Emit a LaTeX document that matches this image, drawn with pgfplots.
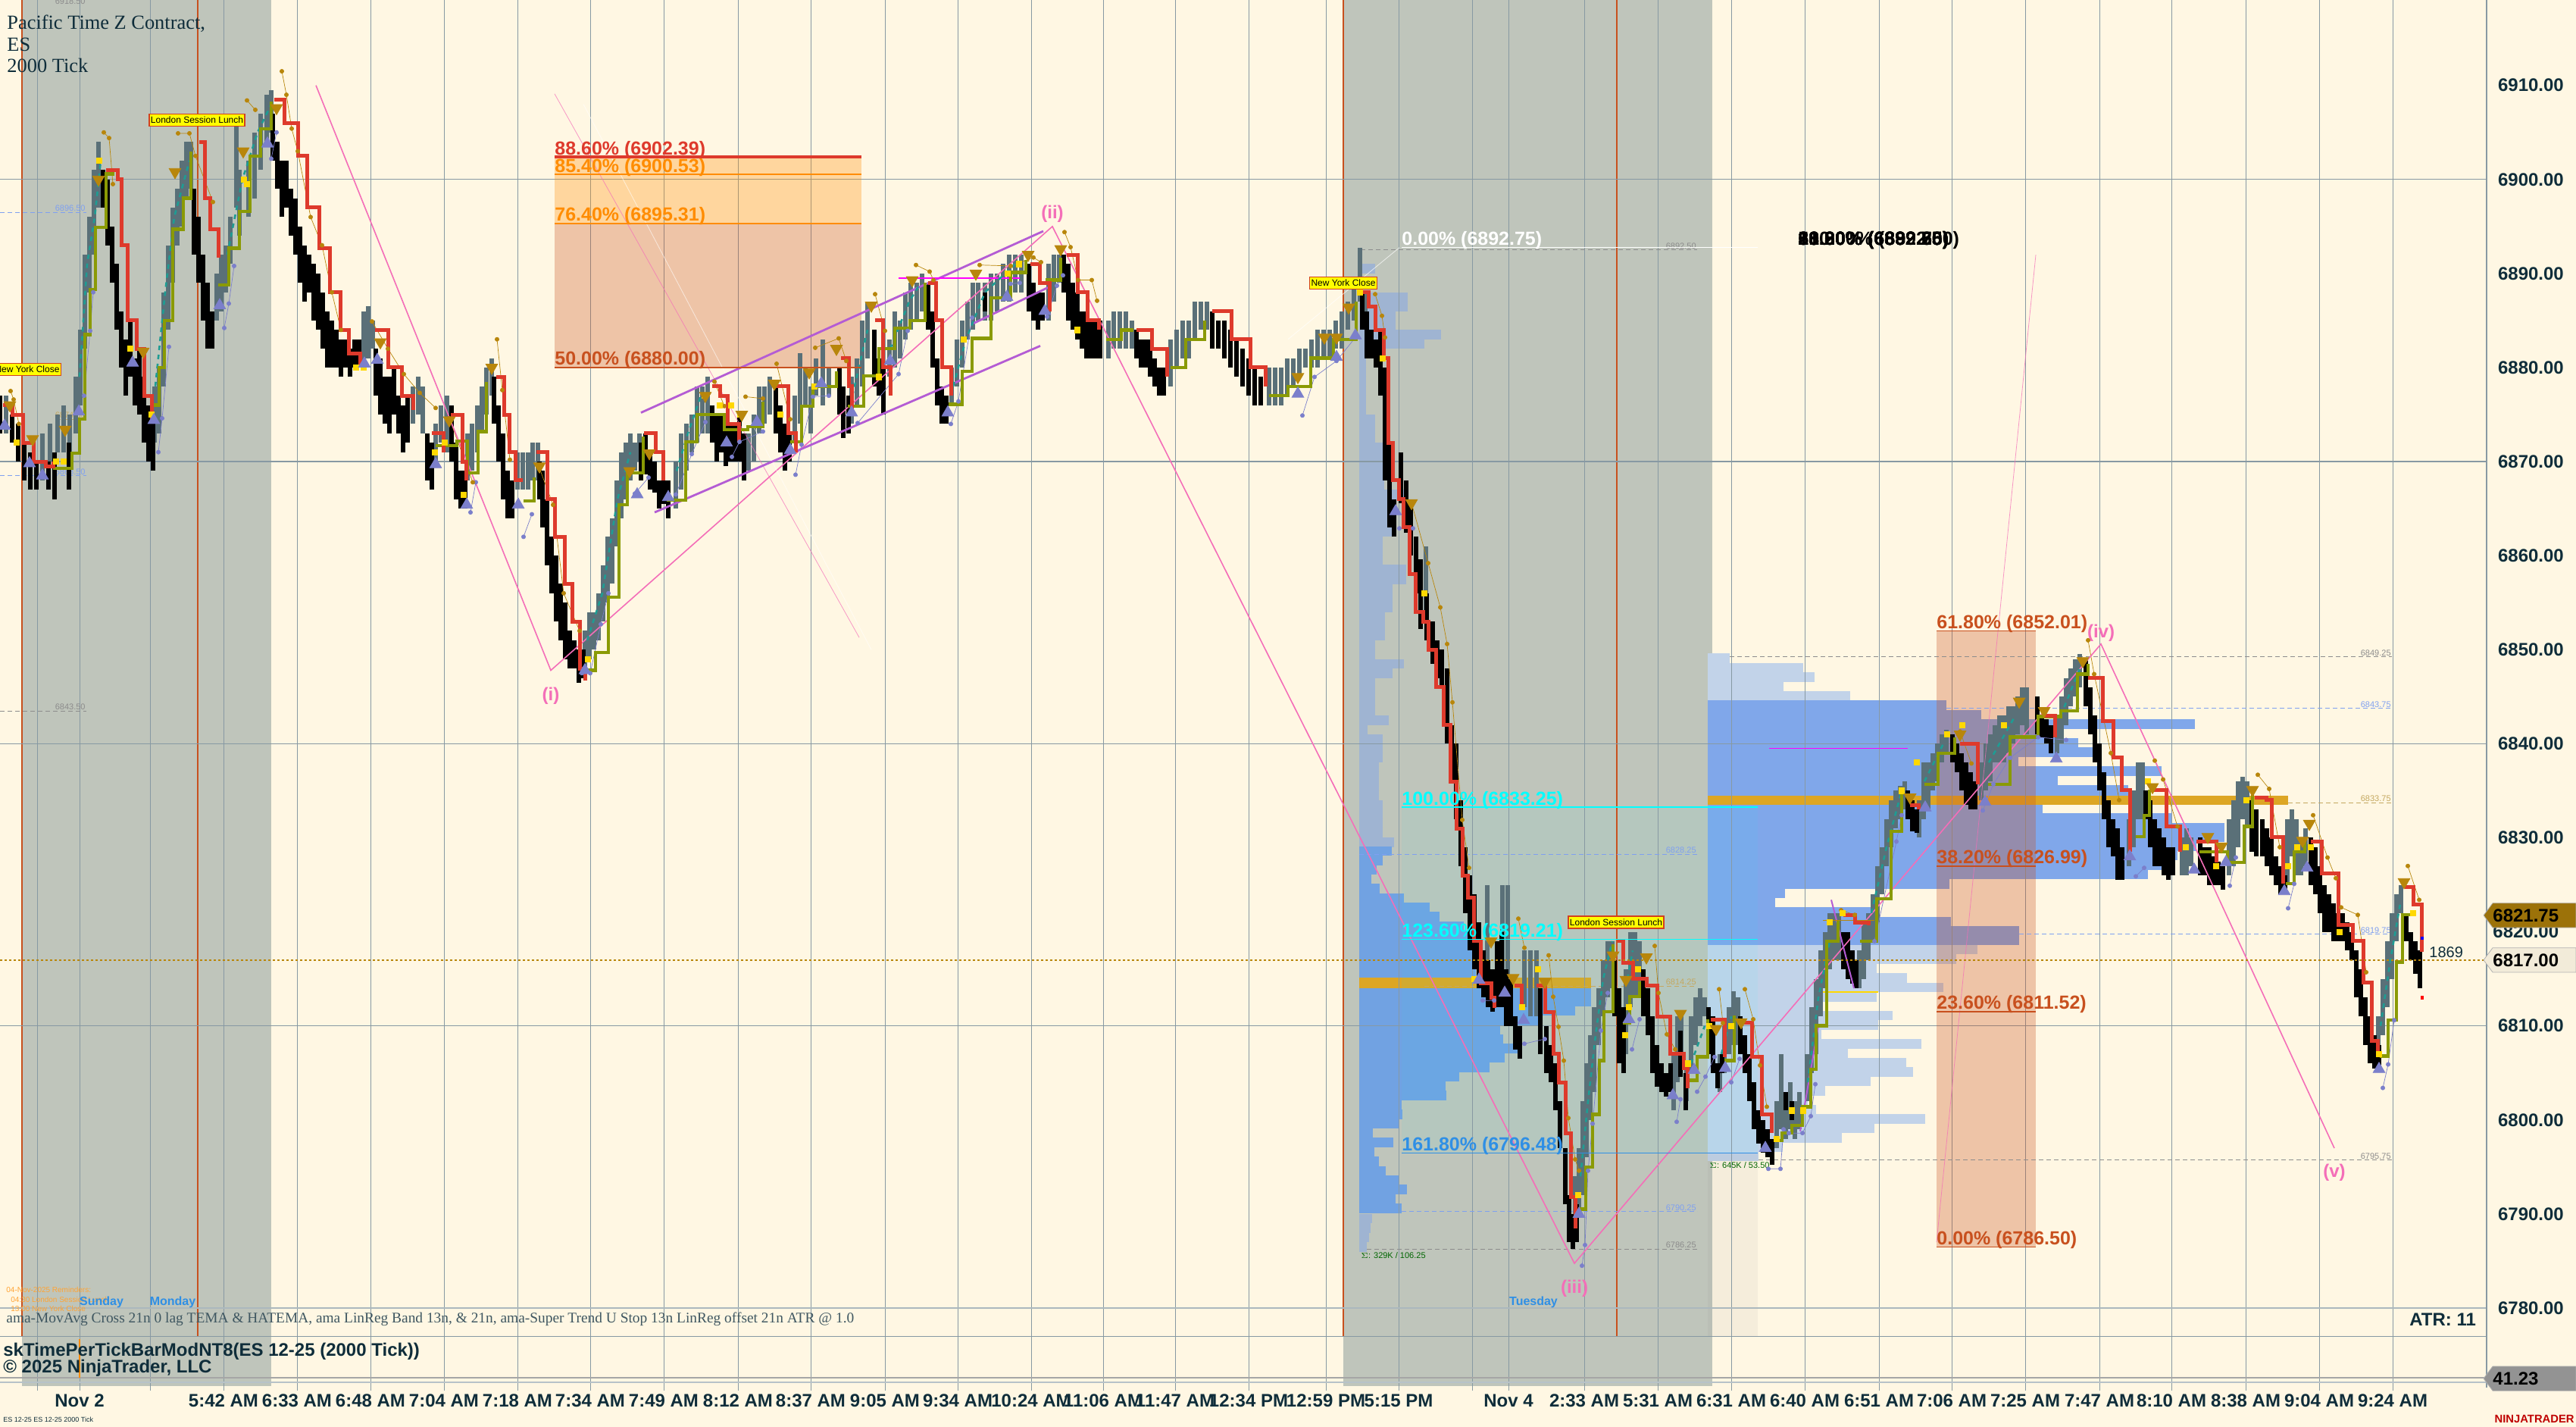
\documentclass[border=0pt]{standalone}
\usepackage{fontspec}
\setmainfont{Liberation Sans}
\newfontfamily\serifface{Liberation Serif}
\usepackage{pgfplots}
\usepackage{pgfplotstable}
\pgfplotsset{compat=1.18}

\definecolor{bg}{HTML}{FFF7E3}
\definecolor{session}{HTML}{BFC5BB}
\definecolor{gridc}{HTML}{8799A3}
\definecolor{upbar}{HTML}{5A7078}
\definecolor{txt}{HTML}{0F2D3A}
\definecolor{redl}{HTML}{DE3A2C}
\definecolor{olive}{HTML}{8A9A05}
\definecolor{teall}{HTML}{1F9C93}
\definecolor{goldd}{HTML}{B8860B}
\definecolor{vio}{HTML}{7B7FCB}
\definecolor{pinkw}{HTML}{F46EB8}
\definecolor{purp}{HTML}{B45CD4}
\definecolor{fibo}{HTML}{C8501E}
\definecolor{poc}{HTML}{DDA624}
\definecolor{flagr}{HTML}{D2401E}
\definecolor{vlight}{HTML}{9FB4D2}
\definecolor{vdark}{HTML}{71A2E2}
\definecolor{wlight}{HTML}{C2D3E9}
\definecolor{wdark}{HTML}{80A7EA}
\definecolor{sblue}{HTML}{2F8FE5}
\definecolor{cy}{HTML}{00FFFF}
\definecolor{yel}{HTML}{FFFF00}
\definecolor{yell}{HTML}{FFD800}
\definecolor{mag}{HTML}{FF00FF}
\definecolor{org}{HTML}{FF8C00}
\definecolor{levb}{HTML}{7FA0F0}
\definecolor{levt}{HTML}{C4A860}
\definecolor{levg}{HTML}{8C8C8C}

\newcommand{\fs}[1]{\fontsize{#1}{#1}\selectfont}

% bars: x lo hi
\pgfplotstableread[row sep=\\]{x lo hi\\
8 6873 6877\\ 56 6868 6873\\ 66 6870 6874\\ 76 6871 6875\\ 84 6871 6876\\ 92 6871 6875\\ 100 6873 6879\\ 106 6876 6884\\ 112 6882 6892\\ 118 6888 6896\\ 124 6892 6901\\ 130 6897 6904\\
204 6872 6878\\ 210 6873 6880\\ 216 6878 6888\\ 222 6884 6893\\ 228 6889 6897\\ 234 6893 6899\\ 240 6895 6902\\ 246 6898 6904\\ 252 6899 6904\\
286 6885 6890\\ 292 6886 6892\\ 298 6888 6893\\ 304 6891 6896\\ 312 6897 6906\\ 316 6894 6901\\ 328 6896 6902\\ 336 6898 6905\\ 344 6901 6907\\ 352 6904 6909\\ 358 6905 6909.5\\
480 6880 6886\\ 486 6881 6886.5\\ 492 6882 6885\\ 545 6874 6878\\ 552 6875 6879\\ 558 6873 6878\\ 575 6870 6874\\ 582 6872 6876\\ 590 6871 6877\\
617 6868 6873\\ 623 6869 6874\\ 630 6871 6876\\ 636 6873 6878\\ 642 6875 6880\\ 649 6877 6881\\ 683 6867 6871\\ 690 6867 6871\\ 697 6867 6871\\ 703 6868 6872\\ 710 6868 6872\\
772 6848 6852\\ 778 6849 6854\\ 784 6850 6854\\ 790 6851 6856\\ 796 6853 6859\\ 802 6855 6862\\ 808 6857 6864\\ 814 6861 6868\\ 820 6864 6871\\ 826 6866 6872\\ 832 6868 6873\\ 838 6869 6872\\ 844 6870 6873\\
892 6865 6870\\ 899 6867 6873\\ 906 6869 6874\\ 913 6871 6875\\ 920 6872 6878\\ 927 6873 6878\\ 934 6873 6879\\ 988 6869 6873\\ 995 6870 6875\\ 1002 6873 6878\\ 1009 6874 6878\\ 1016 6875 6879\\
1049 6872 6877\\ 1056 6874 6881.5\\ 1063 6876 6880\\ 1070 6873 6878\\ 1077 6877 6881\\ 1086 6876 6883\\ 1094 6877 6880\\ 1124 6874 6879\\ 1131 6876 6881\\ 1138 6878 6885\\ 1145 6881 6887\\
1174 6879 6883\\ 1181 6880 6886\\ 1188 6881 6885\\ 1195 6883 6888\\ 1202 6884 6889\\ 1210 6885 6889\\ 1217 6886 6890\\
1256 6876 6880\\ 1263 6878 6883\\ 1270 6880 6885\\ 1277 6883 6887\\ 1284 6884 6889\\ 1291 6885 6889\\ 1300 6885 6889\\ 1308 6885 6890\\ 1316 6886 6890\\ 1324 6887 6891\\ 1332 6887 6892\\ 1340 6888 6892\\ 1348 6888 6892\\
1384 6885 6891\\ 1391 6887 6892\\ 1398 6889 6892\\ 1463 6881 6885\\ 1470 6882 6886\\ 1478 6882 6886\\ 1486 6882 6886\\ 1494 6882 6885\\
1545 6878 6883\\ 1553 6880 6884\\ 1561 6881 6885\\ 1569 6881 6885\\ 1577 6883 6887\\ 1585 6884 6887\\ 1593 6884 6887\\
1675 6876 6880\\ 1683 6876 6880\\ 1691 6876 6880\\ 1699 6877 6881\\ 1707 6878 6881\\ 1715 6879 6882\\ 1723 6880 6882\\ 1731 6880 6883\\ 1739 6880 6884\\ 1747 6881 6884\\ 1755 6881 6884\\ 1763 6882 6885\\ 1771 6882 6886\\ 1779 6884 6887\\ 1787 6885 6889\\ 1795 6887 6892.7\\ 1802 6886 6888\\
1882 6854 6861\\ 1963 6816 6825\\ 1983 6816 6825\\ 1990 6815 6825\\ 2012 6812 6818\\ 2020 6811 6818\\ 2028 6811 6818\\
2079 6788 6794\\ 2084 6790 6797\\ 2089 6792 6802\\ 2094 6796 6806\\ 2099 6800 6809\\ 2104 6803 6812\\ 2110 6808 6814\\ 2116 6811 6817\\ 2122 6813 6819\\ 2128 6814 6819\\
2146 6807 6816\\ 2152 6812 6820\\ 2158 6813 6820\\ 2164 6813 6819\\
2209 6801 6807\\ 2214 6804 6811\\ 2219 6806 6811\\ 2226 6802 6806\\ 2232 6805 6811\\ 2238 6808 6813\\ 2244 6810 6814\\ 2250 6811 6813\\
2270 6803 6807\\ 2276 6805 6810\\ 2282 6807 6812\\ 2288 6808 6813.7\\ 2294 6808 6813\\
2345 6797 6802\\ 2351 6799 6807\\ 2357 6798 6803\\ 2363 6799 6804\\ 2369 6798 6802\\ 2375 6799 6803\\
2385 6802 6807\\ 2391 6805 6812\\ 2397 6807 6815\\ 2403 6811 6818\\ 2409 6814 6820\\ 2415 6816 6822\\ 2421 6817 6822\\ 2427 6817 6822\\
2454 6814 6818\\ 2460 6815 6821\\ 2466 6817 6822\\ 2472 6819 6824\\ 2478 6821 6827\\ 2484 6824 6829\\ 2490 6827 6832\\ 2496 6829 6834\\ 2502 6831 6835\\ 2508 6832 6835.5\\ 2514 6833 6836\\
2533 6830 6834\\ 2539 6832 6838\\ 2545 6833 6838\\ 2551 6835 6839\\ 2557 6836 6840\\ 2563 6838 6841\\ 2569 6839 6841.5\\
2615 6834 6838\\ 2621 6835 6840\\ 2627 6836 6841\\ 2633 6838 6842\\ 2639 6838 6843\\ 2645 6838 6843\\ 2651 6839 6844\\ 2657 6840 6844\\ 2663 6841 6845\\ 2669 6842 6846\\ 2675 6841 6846\\
2715 6839 6843\\ 2721 6840 6845\\ 2727 6842 6847\\ 2733 6844 6848\\ 2739 6845 6849\\ 2745 6846 6849.5\\
2810 6827 6832\\ 2816 6829 6835\\ 2822 6832 6838\\ 2828 6832 6838\\ 2880 6826 6830\\ 2886 6826 6831\\ 2892 6827 6830\\
2942 6826 6832\\ 2948 6827 6834\\ 2954 6829 6836\\ 2960 6832 6836.5\\ 2966 6831 6836\\
3019 6825 6832\\ 3025 6828 6833\\ 3031 6826 6832\\ 3037 6826 6830\\ 3043 6827 6831\\
3139 6806 6811\\ 3145 6809 6815\\ 3151 6812 6819\\ 3157 6815 6822\\ 3163 6819 6824\\ 3169 6822 6825\\
}\barsup

\pgfplotstableread[row sep=\\]{x lo hi\\
0 6873 6877\\ 16 6872 6875\\ 24 6870 6874\\ 32 6868 6872\\ 40 6867 6871\\ 48 6867 6870\\ 64 6867 6870\\ 72 6866 6871\\ 91 6867 6872\\
136 6897 6901\\ 142 6893 6900\\ 148 6889 6895\\ 154 6884 6891\\ 160 6880 6886\\ 166 6877 6883\\ 172 6879 6885\\ 178 6876 6881\\ 184 6875 6882\\ 190 6872 6879\\ 196 6870 6876\\ 202 6869 6874\\
256 6892 6899\\ 262 6889 6896\\ 268 6885 6892\\ 274 6882 6889\\ 280 6882 6886\\
360 6902 6907\\ 366 6899 6904\\ 372 6896 6902\\ 378 6897 6902\\ 384 6894 6899\\ 390 6892 6898\\ 396 6889 6895\\ 402 6887 6893\\ 408 6888 6892\\ 414 6885 6891\\ 420 6884 6890\\ 426 6882 6888\\ 432 6880 6886\\ 438 6880 6885\\ 444 6880 6884\\ 450 6879 6883\\ 456 6880 6883\\ 462 6879 6882\\ 468 6880 6883\\ 474 6880 6883\\
496 6877 6882\\ 502 6875 6881\\ 508 6874 6879\\ 514 6873 6879\\ 520 6875 6880\\ 526 6873 6877\\ 532 6871 6876\\ 538 6872 6877\\ 564 6868 6873\\ 570 6867 6872\\
596 6870 6876\\ 602 6866 6872\\ 608 6865 6869\\ 614 6865 6869\\ 652 6874 6879\\ 658 6870 6876\\ 664 6866 6873\\ 670 6864 6869\\ 676 6864 6868\\
712 6866 6870\\ 716 6863 6869\\ 722 6859 6866\\ 728 6856 6862\\ 734 6853 6860\\ 740 6851 6857\\ 746 6849 6855\\ 752 6848 6852\\ 758 6848 6851\\ 764 6846.5 6850\\ 770 6847 6850\\
846 6868 6872\\ 852 6868.6 6873\\ 858 6867 6871\\ 864 6866.7 6870\\ 870 6865 6868\\ 876 6865.5 6868\\ 882 6864 6868\\
940 6872 6876\\ 946 6870 6875\\ 952 6871 6875\\ 958 6869.5 6875\\ 964 6870 6874\\ 970 6870 6874\\ 976 6870 6875\\ 982 6868 6873\\
1024 6873 6878\\ 1030 6871 6876\\ 1036 6869 6874\\ 1042 6870 6873\\ 1108 6875 6880\\ 1113 6872.5 6878\\ 1120 6873 6877\\ 1154 6878 6884\\ 1160 6877 6881\\ 1166 6875 6880\\
1225 6884 6889\\ 1231 6880 6886\\ 1237 6876 6881\\ 1243 6874 6878\\ 1249 6874 6877\\ 1300 6886 6888\\ 1358 6886 6891\\ 1364 6885 6889\\ 1370 6884 6888\\ 1376 6885 6888\\
1404 6888 6892\\ 1410 6885 6891\\ 1416 6884 6889\\ 1422 6883 6888\\ 1428 6882 6886\\ 1434 6881 6886\\ 1440 6881 6885\\ 1446 6881 6885\\ 1452 6881 6885\\
1500 6881 6884\\ 1506 6880 6883\\ 1512 6880 6883\\ 1518 6879 6883\\ 1524 6878 6881\\ 1530 6877 6880\\ 1536 6877 6880\\
1600 6882 6886\\ 1608 6882 6885\\ 1616 6881 6885\\ 1624 6880 6884\\ 1632 6879 6883\\ 1640 6878 6882\\ 1648 6877 6881\\ 1656 6876 6880\\ 1664 6876 6879\\
1798 6884 6888\\ 1804 6881 6886\\ 1810 6881 6884\\ 1816 6880 6883\\ 1822 6877 6884\\ 1828 6868 6880\\ 1834 6863 6872\\ 1840 6862 6866\\ 1849 6865.6 6871\\ 1856 6862.4 6868\\ 1862 6860 6866\\ 1869 6856 6862\\ 1875 6852.2 6859.6\\ 1883 6851 6856\\ 1891 6848.5 6853\\ 1897 6847 6851\\ 1903 6846 6850\\ 1910 6840 6848\\ 1916 6836 6842\\ 1922 6832 6840\\ 1928 6827 6834\\ 1934 6822 6829\\
1940 6818 6826\\ 1946 6816 6824\\ 1952 6814 6821\\ 1958 6813 6818\\ 1964 6812 6817\\ 1970 6811.5 6816\\ 1976 6812 6819\\ 1982 6812 6820\\ 1988 6810 6816\\ 1994 6810 6815\\ 2000 6807.5 6811\\ 2006 6806.5 6810\\ 2033 6807 6814\\ 2041 6805 6810\\ 2047 6804 6808\\ 2053 6801 6806\\ 2059 6797 6802\\ 2066 6791 6797\\ 2071 6787 6792\\ 2076 6786.3 6790\\ 2081 6787 6791\\
2131 6811 6817\\ 2137 6806 6814\\ 2143 6805 6812\\ 2169 6811 6816\\ 2175 6809 6814\\ 2181 6805 6811\\ 2187 6803.5 6808\\ 2193 6803 6806\\ 2199 6802.5 6805\\ 2205 6803 6806\\ 2218 6804.6 6809.5\\ 2225 6801 6805\\
2255 6807 6812\\ 2261 6805 6811\\ 2267 6803.4 6806\\ 2273 6805 6807\\ 2297 6807 6811\\ 2303 6805 6809\\ 2309 6802 6807\\ 2315 6799 6804\\ 2321 6797.5 6801\\ 2327 6796.5 6800\\ 2333 6796 6799\\ 2339 6795.2 6798\\ 2357 6801 6803\\ 2365 6800 6802\\
2433 6816 6820\\ 2439 6815 6820\\ 2445 6814.5 6818\\ 2450 6814 6817\\ 2518 6832 6835\\ 2524 6830.7 6834\\ 2530 6830.5 6833\\
2577 6838 6841\\ 2583 6837 6840\\ 2589 6835 6839\\ 2595 6833.5 6838\\ 2601 6833 6837\\ 2607 6833 6836\\ 2689 6841 6845\\ 2695 6840.7 6843\\ 2701 6840 6842.6\\ 2707 6839 6842\\
2753 6844 6849\\ 2759 6841 6846\\ 2765 6838 6843\\ 2771 6835 6840\\ 2777 6832 6837\\ 2783 6829 6834\\ 2789 6828 6832\\ 2795 6825.5 6831\\ 2801 6825.5 6829\\
2832 6832 6835\\ 2838 6829 6834\\ 2844 6827 6832\\ 2850 6827 6831\\ 2856 6826 6830\\ 2862 6825.5 6829\\ 2868 6826 6829\\ 2904 6826 6830\\ 2910 6826 6829\\ 2916 6825 6829\\ 2922 6825 6828\\ 2928 6825 6827.5\\ 2934 6824.5 6827\\
2972 6828.5 6834\\ 2978 6828 6833\\ 2986 6828 6832\\ 2992 6827 6831\\ 2998 6826 6830\\ 3004 6825 6828\\ 3010 6824 6827\\ 3016 6824 6826\\
3050 6825 6830\\ 3056 6824 6829\\ 3062 6822 6827\\ 3068 6820 6825\\ 3074 6820 6824\\ 3080 6819 6823\\ 3086 6819 6822\\ 3092 6819 6822\\ 3098 6818 6821\\ 3104 6817 6820\\ 3110 6813 6818\\ 3116 6811 6816\\ 3122 6808 6813\\ 3128 6806 6811\\ 3134 6805.5 6809\\ 3140 6805.5 6808\\
3176 6819 6822\\ 3182 6817 6820\\ 3188 6815.5 6819\\ 3194 6814 6818\\
}\barsdown

% volume profiles: p = price row, r = right end of the row
\pgfplotstableread[row sep=\\]{p r\\
6890.5 1815\\ 6889 1800\\ 6887.5 1858\\ 6886.5 1858\\ 6885.5 1842\\ 6884.5 1842\\ 6883.5 1902\\ 6882.5 1880\\ 6881.5 1818\\ 6880.5 1803\\ 6879.5 1803\\ 6878.5 1803\\ 6877.5 1803\\ 6876.5 1803\\ 6875.5 1803\\ 6874.5 1815\\ 6873.5 1815\\ 6872.5 1815\\ 6871.5 1827\\ 6870.5 1827\\ 6869.5 1827\\ 6868.5 1827\\ 6867.5 1827\\ 6866.5 1853\\ 6865.5 1838\\ 6864.5 1838\\ 6863.5 1838\\ 6862.5 1838\\ 6861.5 1825\\ 6860.5 1825\\ 6859.5 1825\\ 6858.5 1856\\ 6857.5 1856\\ 6856.5 1838\\ 6855.5 1838\\ 6854.5 1838\\ 6853.5 1828\\ 6852.5 1828\\ 6851.5 1828\\ 6850.5 1815\\ 6849.5 1815\\ 6848.5 1853\\ 6847.5 1838\\ 6846.5 1815\\ 6845.5 1815\\ 6844.5 1815\\ 6843.5 1815\\ 6842.5 1833\\ 6841.5 1805\\ 6840.5 1825\\ 6839.5 1825\\ 6838.5 1825\\ 6837.5 1820\\ 6836.5 1820\\ 6835.5 1820\\ 6834.5 1820\\ 6833.5 1825\\ 6832.5 1825\\ 6831.5 1825\\ 6830.5 1825\\ 6829.5 1840\\
6789.5 1811\\ 6788.5 1809\\ 6787.5 1807\\ 6786.5 1804\\
}\profAlight
\pgfplotstableread[row sep=\\]{p r\\
6828.6 1837\\ 6827.6 1825\\ 6826.6 1817\\ 6825.6 1810\\ 6824.6 1821\\ 6823.6 1853\\ 6822.6 1887\\ 6821.6 1900\\ 6820.6 1932\\ 6819.6 1954\\ 6818.6 1937\\ 6817.6 1948\\ 6816.6 1948\\ 6815.6 1948\\ 6814.6 2100\\ 6813.6 2100\\ 6812.6 2100\\ 6811.6 2079\\ 6810.6 2030\\ 6809.6 1980\\ 6808.6 1984\\ 6807.6 2004\\ 6806.6 1986\\ 6805.6 1966\\ 6804.6 1926\\ 6803.6 1908\\ 6802.6 1909\\ 6801.6 1850\\ 6800.6 1851\\ 6799.6 1847\\ 6798.6 1812\\ 6797.6 1839\\ 6796.6 1814\\ 6795.6 1820\\ 6794.6 1829\\ 6793.6 1846\\ 6792.6 1857\\ 6791.6 1842\\ 6790.6 1850\\
}\profAdark
\pgfplotstableread[row sep=\\]{p r\\
6849.1 2283\\ 6848.1 2380\\ 6847.1 2395\\ 6846.1 2354\\ 6845.1 2442\\
6818.1 2610\\ 6817.1 2582\\ 6816.1 2477\\ 6815.1 2517\\ 6814.1 2565\\ 6813.1 2477\\ 6812.1 2400\\ 6811.1 2498\\ 6810.1 2479\\ 6809.1 2404\\ 6808.1 2536\\ 6807.1 2439\\ 6806.1 2516\\ 6805.1 2525\\ 6804.1 2469\\ 6803.1 2409\\ 6802.1 2386\\ 6801.1 2397\\ 6800.1 2541\\ 6799.1 2474\\ 6798.1 2431\\ 6797.1 2353\\ 6796.1 2321\\
}\profBlight
\pgfplotstableread[row sep=\\]{p r\\
6844.1 2569\\ 6843.1 2615\\ 6842.1 2897\\ 6841.1 2716\\ 6840.1 2743\\ 6839.1 2769\\ 6838.1 2664\\ 6837.1 2853\\ 6836.1 2716\\ 6835.1 2809\\ 6834.1 2809\\ 6833.1 2696\\ 6832.1 2866\\ 6831.1 2936\\ 6830.1 2936\\ 6829.1 2899\\ 6828.1 2874\\ 6827.1 2866\\ 6826.1 2835\\ 6825.1 2573\\ 6824.1 2356\\ 6823.1 2343\\ 6822.1 2470\\ 6821.1 2575\\ 6820.1 2665\\ 6819.1 2665\\
}\profBdark

\newcommand{\rect}[5]{\addplot[fill=#5,draw=none] coordinates {(#1,#3)(#2,#3)(#2,#4)(#1,#4)} -- cycle;}
\newcommand{\profile}[3]{\addplot[draw=none,mark=none,error bars/.cd,x dir=minus,x explicit,error bar style={draw=#3,line width=6.3pt},error mark=none] table[x=r,y=p,x error minus expr=\thisrow{r}-#2] {#1};}
\newcommand{\bars}[2]{\addplot[draw=none,mark=none,error bars/.cd,y dir=plus,y explicit,error bar style={draw=#2,line width=3.4pt},error mark=none] table[x=x,y=lo,y error plus expr=\thisrow{hi}-\thisrow{lo}] {#1};}
\newcommand{\level}[4]{\addplot[#4,densely dashed,line width=.35pt] coordinates {(#1,#3)(#2,#3)};}
\newcommand{\levtxt}[3]{\node[anchor=south east,inner sep=.5pt,font=\fs{5.5},text=#3] at (axis cs:#1,#2) {\pgfmathprintnumber[fixed,fixed zerofill,precision=2,1000 sep={},assume math mode=true]{#2}};}
\newcommand{\fib}[4]{\node[anchor=base west,inner sep=0pt,font=\fs{12.5}\bfseries,text=#4,yshift=1.5pt] at (axis cs:#1,#2) {#3};}
\newcommand{\flag}[3]{\node[fill=yel,draw=flagr,line width=.7pt,inner xsep=1pt,inner ysep=1.8pt,font=\fs{6},text=black] at (axis cs:#1,#2) {#3};}
\newcommand{\tag}[3]{\addplot[fill=#3,draw=gray!60,line width=.4pt] coordinates {(3278,#1)(3290,#1+1.3)(3400,#1+1.3)(3400,#1-1.3)(3290,#1-1.3)} -- cycle;
  \node[anchor=west,inner sep=0pt,font=\fs{12}\bfseries,text=black] at (axis cs:3290,#1) {#2};}

\begin{document}
\begin{tikzpicture}
\begin{axis}[
    name=ax,
    scale only axis, width=1700pt, height=941.5pt,
    xmin=0, xmax=3400, ymin=6767.35, ymax=6919.08,
    axis background/.style={fill=bg},
    axis line style={draw=none},
    major tick length=0pt,
    tick style={draw=none},
    unbounded coords=jump,
    xtick={105,295,392,489,586,683,779,876,974,1070,1168,1264,1361,1456,1551,1648,1750,1846,1991,2091,2188,2285,2382,2480,2576,2673,2771,2866,2964,3061,3158},
    xticklabels={Nov 2,5:42 AM,6:33 AM,6:48 AM,7:04 AM,7:18 AM,7:34 AM,7:49 AM,8:12 AM,8:37 AM,9:05 AM,9:34 AM,10:24 AM,11:06 AM,11:47 AM,12:34 PM,12:59 PM,5:15 PM,Nov 4,2:33 AM,5:31 AM,6:31 AM,6:40 AM,6:51 AM,7:06 AM,7:25 AM,7:47 AM,8:10 AM,8:38 AM,9:04 AM,9:24 AM},
    xticklabel style={anchor=center,yshift=17.5pt,font=\fs{12}\bfseries,text=txt},
    ytick={6780,6790,6800,6810,6830,6840,6850,6860,6870,6880,6890,6900,6910},
    yticklabel pos=right,
    yticklabel style={anchor=west,xshift=-55pt,font=\fs{12}\bfseries,text=txt,
      /pgf/number format/.cd,fixed,fixed zerofill,precision=2,1000 sep={},assume math mode=true},
]
% session shading
\rect{29}{358}{6919.08}{6771.7}{session}
\rect{1773}{2260}{6919.08}{6771.7}{session}

% volume profiles
\profile{\profAlight}{1794}{vlight}
\profile{\profAdark}{1794}{vdark}
\profile{\profBlight}{2254}{wlight}
\profile{\profBdark}{2254}{wdark}
\rect{1794}{2100}{6815.1}{6814.0}{poc}
\rect{2254}{3020}{6834.5}{6833.5}{poc}

% fib tint behind the 100-161.8 range
\addplot[fill=cy,fill opacity=.05,draw=none] coordinates {(1850,6833.25)(2320,6833.25)(2320,6796.48)(1850,6796.48)} -- cycle;
\addplot[fill=gray,fill opacity=.08,draw=none] coordinates {(2254,6796.48)(2320,6796.48)(2320,6776.9)(2254,6776.9)} -- cycle;

% vertical grid, orange session lines
\addplot[draw=none,mark=none,error bars/.cd,y dir=minus,y fixed=147.9,error bar style={draw=gridc,line width=.5pt},error mark=none] coordinates {(49,6919.08)(105,6919.08)(198,6919.08)(295,6919.08)(392,6919.08)(489,6919.08)(586,6919.08)(683,6919.08)(779,6919.08)(876,6919.08)(974,6919.08)(1070,6919.08)(1168,6919.08)(1264,6919.08)(1361,6919.08)(1456,6919.08)(1551,6919.08)(1648,6919.08)(1750,6919.08)(1846,6919.08)(1943,6919.08)(1991,6919.08)(2091,6919.08)(2188,6919.08)(2285,6919.08)(2382,6919.08)(2480,6919.08)(2576,6919.08)(2673,6919.08)(2771,6919.08)(2866,6919.08)(2964,6919.08)(3061,6919.08)(3158,6919.08)};
\addplot[draw=none,mark=none,error bars/.cd,y dir=minus,y fixed=142.14,error bar style={draw=fibo,line width=.7pt},error mark=none] coordinates {(29,6919.08)(261,6919.08)(1773,6919.08)(2134,6919.08)};

% horizontal grid and panel rules
\addplot[gridc,line width=.6pt] coordinates {(0,6900)(3282,6900)(0,nan)(0,6870)(3282,6870)(0,nan)(0,6840)(3282,6840)(0,nan)(0,6810)(3282,6810)};
\addplot[gridc!70,line width=.9pt] coordinates {(0,6780)(3282,6780)};
\addplot[gridc,line width=.7pt] coordinates {(0,6776.96)(3282,6776.96)};
\addplot[gray!70,line width=1pt] coordinates {(0,6772.6)(3282,6772.6)};
\addplot[gridc!60,line width=.7pt] coordinates {(0,6772.1)(3282,6772.1)};
\addplot[gridc,line width=.6pt] coordinates {(3282,6919.08)(3282,6771.5)};
\addplot[org,line width=.8pt] coordinates {(105,6776.7)(105,6772.6)};

% fib boxes
\addplot[fill=org,fill opacity=.3,draw=none] coordinates {(732,6902.39)(1137,6902.39)(1137,6895.31)(732,6895.31)} -- cycle;
\addplot[fill=fibo,fill opacity=.3,draw=none] coordinates {(732,6895.31)(1137,6895.31)(1137,6880)(732,6880)} -- cycle;
\addplot[fill=fibo,fill opacity=.3,draw=none] coordinates {(2556,6852.01)(2687,6852.01)(2687,6786.5)(2556,6786.5)} -- cycle;

% levels
\level{0}{114}{6896.5}{levb}
\level{74}{114}{6874.5}{levt}
\level{0}{114}{6868.5}{levb}
\level{0}{114}{6843.5}{levg}
\level{1796}{2240}{6892.5}{levg}
\level{1794}{2240}{6828.25}{levb}
\level{1880}{2240}{6814.25}{levt}
\level{1850}{2240}{6790.25}{levb}
\level{1804}{2240}{6786.25}{levg}
\level{2283}{3157}{6849.25}{levg}
\level{2569}{3157}{6843.75}{levb}
\level{3020}{3157}{6833.75}{levt}
\level{2665}{3157}{6819.75}{levb}
\level{2321}{3157}{6795.75}{levg}
\levtxt{114}{6918.5}{levg}
\levtxt{114}{6896.5}{levb}
\levtxt{114}{6874.5}{levt}
\levtxt{114}{6868.5}{levb}
\levtxt{114}{6843.5}{levg}
\levtxt{2240}{6892.5}{levg}
\levtxt{2240}{6828.25}{levb}
\levtxt{2240}{6814.25}{levt}
\levtxt{2240}{6790.25}{levb}
\levtxt{2240}{6786.25}{levg}
\levtxt{3157}{6849.25}{levg}
\levtxt{3157}{6843.75}{levb}
\levtxt{3157}{6833.75}{levt}
\levtxt{3157}{6819.75}{levb}
\levtxt{3157}{6795.75}{levg}
\node[anchor=west,inner sep=0pt,font=\fs{5.5},text=green!40!black] at (axis cs:1796,6785.6) {$\Sigma$: 329K / 106.25};
\node[anchor=west,inner sep=0pt,font=\fs{5.5},text=green!40!black] at (axis cs:2256,6795.2) {$\Sigma$: 645K / 53.50};

% price bars
\bars{\barsup}{upbar}
\bars{\barsdown}{black}

% violet stop dots
\addplot[vio,line width=.35pt,mark=*,mark size=1.3pt,mark options={fill=vio}] coordinates {(111,6877)(119,6883.9)(123,6888)(0,nan)(209,6871)(214,6874.6)(223,6882.2)(0,nan)(296,6884.2)(302,6886.8)(309,6890.8)(0,nan)(358,6902.2)(365,6905)(0,nan)(621,6864.6)(628,6867.8)(0,nan)(691,6862)(702,6864.4)(0,nan)(768,6847.5)(779,6847.5)(793,6852.7)(803,6856)(0,nan)(838,6866.6)(856,6868.3)(0,nan)(892,6866.5)(913,6870.8)(931,6874.2)(0,nan)(966,6870.5)(976,6872.1)(1007,6873.2)(0,nan)(1050,6868.6)(1058,6871.8)(1073,6876.9)(1094,6877)(0,nan)(1132,6874.1)(1186,6879.3)(1198,6883.9)(0,nan)(1255,6874)(1265,6876.4)(1283,6885.3)(0,nan)(1334,6888.9)(1346,6889)(0,nan)(1382,6885.4)(1395,6888.7)(1403,6889.8)(0,nan)(1719,6874.9)(1735,6879)(1764,6880.7)(1789,6883.2)(0,nan)(1847,6862.9)(1865,6862.9)(0,nan)(1957,6812.7)(1972,6812.7)(0,nan)(2012,6808.1)(2039,6808.6)(0,nan)(2088,6784.5)(2092,6786.7)(2096,6794.6)(2102,6799.6)(2113,6809.5)(2122,6813.5)(0,nan)(2154,6807.5)(2164,6810.7)(0,nan)(2213,6799.8)(2218,6802.2)(0,nan)(2240,6803)(2251,6804.6)(2263,6806.7)(0,nan)(2285,6804)(2296,6806.5)(0,nan)(2334,6794.8)(2350,6794.8)(2354,6799)(2361,6798.6)(2379,6798.6)(2390,6800.4)(2396,6803.8)(0,nan)(2474,6819)(2503,6829.6)(2510,6832.4)(0,nan)(2617,6832.9)(2631,6835.7)(2653,6838.5)(2690,6840.7)(2727,6840.4)(0,nan)(2819,6825.9)(2830,6826.8)(0,nan)(2943,6824.9)(2951,6827.9)(0,nan)(3020,6822.5)(3028,6825.1)(0,nan)(3145,6803.4)(3152,6805.9)(3160,6810.6)};

% gold stop dots
\addplot[goldd,line width=.35pt,mark=*,mark size=1.3pt,mark options={fill=goldd}] coordinates {(14,6877.5)(18,6876.6)(25,6874)(0,nan)(137,6905)(144,6904.4)(149,6899.5)(0,nan)(235,6904.9)(250,6904.9)(258,6902.5)(281,6897.6)(0,nan)(326,6908.4)(337,6907.4)(0,nan)(372,6911.5)(378,6909)(385,6905.4)(393,6903)(410,6896)(425,6893)(438,6888)(450,6884)(0,nan)(491,6884.9)(512,6882)(533,6879.3)(554,6877.3)(575,6875.7)(0,nan)(593,6874.6)(624,6867.8)(0,nan)(656,6883)(663,6877.6)(673,6870.2)(0,nan)(712,6869.3)(730,6865.4)(744,6856)(765,6852)(0,nan)(943,6878.5)(956,6875.9)(0,nan)(984,6876.9)(1007,6876.7)(0,nan)(1025,6880.4)(1043,6874.5)(0,nan)(1076,6882.1)(1107,6883.1)(1117,6880.7)(0,nan)(1155,6887.8)(1168,6883.9)(0,nan)(1209,6890.9)(1227,6890.2)(1232,6889.3)(0,nan)(1293,6890.9)(1334,6890.8)(1364,6891.7)(1374,6891.2)(0,nan)(1405,6894.4)(1413,6892.8)(1423,6889.3)(1441,6889.3)(1448,6887.1)(0,nan)(1815,6887.8)(1824,6885.5)(1828,6883.2)(0,nan)(1863,6865.6)(1885,6859.2)(1901,6854.5)(1910,6850.6)(1917,6844.4)(1930,6831.9)(1939,6826.8)(0,nan)(2004,6821.4)(2012,6818.3)(0,nan)(2044,6817.5)(2050,6813.1)(2057,6809.9)(2064,6806.3)(2070,6800.2)(2079,6795.8)(2084,6794.6)(0,nan)(2184,6818.5)(2189,6813.5)(2200,6809.1)(2211,6807.5)(0,nan)(2269,6813.9)(2274,6810.3)(0,nan)(2303,6813.9)(2314,6810.7)(2323,6805.8)(2332,6801.4)(0,nan)(2430,6822.3)(2448,6821.8)(0,nan)(2587,6841.3)(2602,6837.9)(0,nan)(2756,6851)(2764,6847.4)(2786,6839)(2797,6834)(0,nan)(2844,6838.2)(2855,6836.2)(2874,6831.2)(0,nan)(2980,6836.7)(2995,6835.2)(3009,6829)(0,nan)(3053,6832.4)(3072,6827.9)(3083,6825.7)(0,nan)(3090,6822.6)(3112,6821.8)(3123,6815.7)(0,nan)(3178,6827)(3193,6823.4)};

% wave count and trend lines
\addplot[pinkw,line width=.8pt] coordinates {(417,6910)(727,6847.8)(1389,6895)(2078,6784.75)(2773,6850.6)(3081,6797)};
\addplot[pinkw,line width=.4pt,opacity=.7] coordinates {(732,6909.1)(1134,6851.3)};
\addplot[white,line width=.4pt,opacity=.6] coordinates {(770,6908)(1150,6850)};
\addplot[pinkw,line width=.4pt,opacity=.7] coordinates {(2556,6787)(2687,6892)};
\addplot[white,line width=.4pt,opacity=.7] coordinates {(1700,6883)(1847,6892.75)};
\addplot[purp,line width=1.4pt] coordinates {(846,6875.2)(1377,6894.5)};
\addplot[purp,line width=1.4pt] coordinates {(864,6864.6)(1373,6882.3)};
\addplot[purp,line width=1.4pt] coordinates {(1285,6884.7)(1383,6888.5)};
\addplot[mag,line width=.6pt] coordinates {(1186,6889.5)(1346,6889.5)};
\addplot[mag,line width=.6pt] coordinates {(2335,6839.5)(2518,6839.5)};
\addplot[purp,line width=1pt] coordinates {(2417,6823.4)(2447,6814)};
\addplot[purp,line width=1pt] coordinates {(2376,6798.8)(2400,6810)};
\addplot[goldd,line width=.7pt] coordinates {(2406,6821.2)(2474,6821.2)};
\addplot[yell,line width=.7pt] coordinates {(2406,6813.6)(2479,6813.6)};

% indicator lines
\addplot[teall,line width=1.3pt,dashed] coordinates {(105,6879)(115,6891)(125,6896)(133,6902)(0,nan)(205,6878)(218,6888)(230,6896)(250,6902)(0,nan)(300,6892)(320,6900)(340,6905)(358,6908)(0,nan)(775,6851)(795,6856)(815,6866)(832,6871)(0,nan)(893,6869)(908,6873)(925,6877)(0,nan)(1125,6877)(1145,6884)(0,nan)(1175,6882)(1200,6887)(1215,6889)(0,nan)(1258,6878)(1275,6883)(1300,6888)(1340,6891)(0,nan)(2086,6794)(2096,6802)(2106,6809)(2116,6815)(2128,6819)(0,nan)(2148,6815)(2155,6818)(0,nan)(2232,6806)(2250,6810)(0,nan)(2272,6807)(2285,6811)(0,nan)(2386,6804)(2400,6813)(2415,6819)(0,nan)(2470,6822)(2490,6829)(2510,6835)(0,nan)(2540,6836)(2565,6840)(0,nan)(2625,6838)(2660,6843)(0,nan)(2720,6843)(2745,6848)(0,nan)(3142,6810)(3155,6817)(3168,6823)};
\addplot[olive,const plot,line width=2.2pt] coordinates {(70,6869.3)(95,6870.9)(105,6874.5)(112,6883.5)(119,6888.3)(126,6894.9)(140,6900.6)(149,6901.2)(0,nan)(200,6876)(210,6880)(217,6885)(228,6894.7)(242,6898)(252,6903)(0,nan)(288,6888.8)(302,6892.7)(316,6896.6)(330,6902.5)(344,6905.4)(358,6908.3)(0,nan)(575,6871.7)(603,6872.2)(617,6868.8)(631,6873.2)(642,6878.5)(0,nan)(691,6865.8)(705,6868.3)(0,nan)(768,6847.8)(786,6849.7)(803,6855.6)(817,6865.4)(828,6868.8)(849,6872.7)(0,nan)(880,6865.9)(905,6872.1)(920,6875)(956,6873.4)(987,6873.7)(1007,6876.4)(0,nan)(1043,6872.1)(1058,6875.9)(1073,6878)(1104,6879.6)(0,nan)(1119,6875.9)(1140,6879.1)(1160,6882)(1181,6884.2)(1201,6885)(1221,6889)(0,nan)(1252,6876.1)(1270,6879.6)(1283,6883.1)(1308,6887.4)(1334,6890.1)(1354,6891.4)(0,nan)(1380,6889.3)(1400,6891.7)(0,nan)(1460,6883)(1480,6884)(1496,6884)(0,nan)(1545,6880)(1565,6883)(1590,6885)(0,nan)(1675,6877)(1700,6878)(1730,6881)(1760,6883)(1790,6887)(0,nan)(2084,6790.5)(2093,6795)(2102,6800.6)(2111,6806.3)(2117,6811.5)(2129,6818.7)(0,nan)(2142,6810.3)(2151,6813.1)(2164,6814.7)(0,nan)(2227,6804.2)(2240,6806.7)(2254,6810.7)(0,nan)(2276,6806.3)(2289,6811.1)(0,nan)(2343,6797.8)(2352,6798.6)(2365,6799.4)(2379,6801.4)(2390,6805.4)(2397,6810)(2411,6819)(2426,6821.2)(0,nan)(2455,6819)(2477,6823.5)(2496,6830.7)(2510,6834.6)(0,nan)(2540,6835.7)(2558,6839)(2580,6840.7)(0,nan)(2624,6835.7)(2653,6840.7)(2690,6842.9)(2720,6843.5)(2742,6847.4)(2756,6848.5)(0,nan)(2819,6830.1)(2830,6832.4)(2837,6835.1)(0,nan)(2903,6828.5)(2940,6827.4)(2962,6831.2)(2973,6834.6)(0,nan)(3017,6825.1)(3028,6828.5)(3042,6829.9)(0,nan)(3141,6806.8)(3152,6810.6)(3163,6816.8)(3171,6821.8)(3182,6821.8)};
\addplot[redl,const plot,line width=2.5pt] coordinates {(4,6876)(16,6875)(30,6872)(44,6870)(60,6869.5)(70,6870)(0,nan)(140,6901)(155,6900)(160,6893)(168,6885)(180,6882)(190,6877)(200,6874)(0,nan)(263,6904)(270,6898)(277,6894.7)(288,6891.7)(0,nan)(362,6908.5)(375,6906)(393,6902.5)(405,6897)(421,6892.7)(435,6888)(449,6884)(460,6881.5)(475,6880)(0,nan)(495,6884)(512,6880)(530,6877)(545,6875.5)(0,nan)(570,6873)(585,6871)(0,nan)(595,6875)(610,6870)(615,6868)(0,nan)(655,6879)(665,6875)(672,6871)(680,6868)(690,6868)(0,nan)(708,6871)(722,6866)(732,6862)(745,6857)(755,6853)(765,6848)(772,6846.7)(0,nan)(850,6873)(865,6871)(875,6868)(0,nan)(940,6878)(950,6877)(960,6874)(975,6872)(0,nan)(1024,6878)(1040,6873)(1050,6871)(0,nan)(1110,6881)(1120,6878)(1124,6875)(0,nan)(1155,6885)(1165,6880)(1175,6877)(0,nan)(1225,6889)(1235,6885)(1243,6880)(1255,6877)(0,nan)(1360,6891)(1372,6889)(1385,6886)(0,nan)(1408,6892)(1422,6888)(1435,6885)(1450,6884)(0,nan)(1500,6884)(1520,6882)(1540,6879)(0,nan)(1600,6886)(1625,6883)(1650,6880)(1670,6878)(0,nan)(1796,6888)(1806,6886.5)(1815,6884)(1826,6881)(1832,6872)(1838,6868)(1846,6866)(1852,6863)(1860,6858)(1868,6854)(1878,6853)(1885,6850)(1895,6846)(1905,6842)(1914,6836)(1922,6831)(1930,6826)(1937,6823.6)(1945,6819)(1954,6814.5)(1968,6813)(1972,6811.9)(0,nan)(1999,6814.3)(2008,6812.3)(0,nan)(2028,6814.3)(2039,6811.5)(2050,6807)(2057,6804)(2066,6798.6)(2073,6791.8)(2079,6788.5)(0,nan)(2135,6819)(2142,6816.7)(2155,6815)(2173,6814.3)(2187,6811)(2204,6807)(2222,6805.5)(2227,6803.4)(0,nan)(2258,6810.7)(2276,6806.7)(0,nan)(2294,6810.3)(2312,6806.7)(2325,6800.6)(2338,6798.6)(0,nan)(2433,6821.8)(2448,6821)(2466,6820.7)(0,nan)(2521,6833.5)(2532,6833)(0,nan)(2587,6840)(2610,6835.7)(0,nan)(2697,6843)(2712,6840.7)(0,nan)(2756,6847)(2775,6842.4)(2789,6838.5)(2800,6835.1)(2811,6828.5)(0,nan)(2841,6835.1)(2859,6831.2)(2877,6828.5)(0,nan)(2899,6829.6)(2925,6827.4)(0,nan)(2976,6834.3)(2991,6834)(2998,6830.1)(3013,6825.1)(0,nan)(3050,6829.6)(3064,6826.2)(3086,6820.7)(3105,6819)(3119,6814.6)(3130,6808.4)(3138,6806.8)(0,nan)(3174,6824.8)(3185,6822.9)(3196,6817.9)};
\addplot[only marks,mark=square*,mark size=1.8pt,color=yell] coordinates {(131,6902)(74,6870)(84,6870)(22,6872)(172,6882)(200,6875)(322,6900)(326,6899.5)(470,6880)(480,6880)(574,6871)(587,6872)(612,6866.5)(776,6849)(930,6877)(950,6876)(965,6876)(977,6875)(1030,6875)(1075,6878)(1160,6879)(1272,6883)(1330,6890)(1345,6891)(1422,6884)(1795,6888)(1825,6881)(1880,6856)(1946,6815)(2009,6812)(2030,6816)(2083,6792)(2145,6809)(2150,6812)(2162,6816)(2228,6806)(2256,6810)(2285,6810)(2345,6798)(2365,6801)(2380,6801)(2415,6821)(2432,6822)(2510,6835)(2530,6838)(2570,6841)(2590,6842)(2645,6842)(2835,6836)(2885,6829)(2925,6827)(2965,6834)(3020,6827)(3032,6829)(3050,6829)(3088,6820)(3140,6807)(3185,6822)};

% swing triangles
\addplot[only marks,mark=triangle*,mark size=4.5pt,mark options={rotate=180,fill=goldd,draw=goldd},color=goldd] coordinates {(13,6876)(43,6872.4)(86,6873.4)(130,6900)(189,6881.7)(231,6900.8)(321,6903)(365,6907.6)(502,6882.7)(593,6874.4)(649,6880)(712,6869.5)(831,6869)(857,6870.9)(931,6877)(979,6875)(1022,6878.3)(1068,6879.5)(1104,6882)(1150,6886.6)(1204,6889.3)(1288,6890)(1357,6892)(1400,6892.6)(1713,6879)(1748,6883.2)(1764,6883.2)(1780,6886.4)(1863,6865.6)(1968,6819)(1997,6815.1)(2039,6814.7)(2129,6817.5)(2146,6814.9)(2173,6817.3)(2218,6811.3)(2265,6809.7)(2298,6810.4)(2521,6834.3)(2587,6841)(2665,6844.5)(2698,6843.5)(2749,6848.8)(2841,6835.4)(2914,6830.1)(2932,6829.1)(2973,6835.1)(3039,6829.7)(3048,6831.5)(3173,6825.3)};
\addplot[only marks,mark=triangle*,mark size=4.5pt,mark options={fill=vio,draw=vio},color=vio] coordinates {(6,6873.8)(39,6869.8)(56,6868.5)(104,6875.3)(175,6880.5)(203,6874.4)(290,6886.6)(353,6903.8)(481,6880.4)(498,6880.8)(575,6869.7)(616,6865.4)(684,6865.4)(772,6847.8)(841,6866.5)(882,6866.2)(959,6872)(999,6874.2)(1043,6871.2)(1084,6878.3)(1124,6875.2)(1175,6880.7)(1251,6875.2)(1329,6887.5)(1379,6886)(1713,6877.2)(1764,6881.1)(1789,6883.4)(1842,6864.7)(1952,6814.9)(1986,6813.5)(2011,6810.6)(2084,6790)(2150,6810.7)(2208,6802.6)(2236,6805.3)(2277,6805.5)(2330,6797)(2541,6833.2)(2620,6833.8)(2714,6838.4)(2811,6828)(2896,6826.6)(2938,6827.4)(3015,6824.3)(3045,6826.8)(3140,6805.4)};
\addplot[only marks,mark=square*,mark size=.8pt,color=blue] coordinates {(3197,6819.3)};
\addplot[only marks,mark=square*,mark size=.8pt,color=red] coordinates {(3197,6813)};

% current price line, fib lines
\addplot[goldd,line width=1pt,dash pattern=on 1.5pt off 1.5pt] coordinates {(0,6817)(3282,6817)};
\addplot[redl,line width=2pt] coordinates {(732,6902.39)(1137,6902.39)};
\addplot[org,line width=.9pt] coordinates {(732,6900.53)(1137,6900.53)};
\addplot[org,line width=.9pt] coordinates {(732,6895.31)(1137,6895.31)};
\addplot[fibo,line width=.9pt] coordinates {(732,6880)(1137,6880)};
\addplot[white,line width=.7pt] coordinates {(1850,6892.75)(2320,6892.75)};
\addplot[cy,line width=.7pt] coordinates {(1850,6833.25)(2320,6833.25)};
\addplot[cy,line width=.7pt] coordinates {(1850,6819.21)(2320,6819.21)};
\addplot[sblue,line width=.7pt] coordinates {(1850,6796.48)(2320,6796.48)};
\addplot[fibo,line width=.7pt] coordinates {(2556,6852.01)(2687,6852.01)};
\addplot[fibo,line width=.7pt] coordinates {(2556,6826.99)(2687,6826.99)};
\addplot[fibo,line width=.7pt] coordinates {(2556,6811.52)(2687,6811.52)};
\addplot[fibo,line width=.7pt] coordinates {(2556,6786.5)(2687,6786.5)};

% fib labels
\fib{732}{6902.39}{88.60\% (6902.39)}{redl}
\fib{732}{6900.53}{85.40\% (6900.53)}{org}
\fib{732}{6895.31}{76.40\% (6895.31)}{org}
\fib{732}{6880}{50.00\% (6880.00)}{fibo}
\fib{1850}{6892.75}{0.00\% (6892.75)}{white}
\fib{1850}{6833.25}{100.00\% (6833.25)}{cy}
\fib{1850}{6819.21}{123.60\% (6819.21)}{cy}
\fib{1850}{6796.48}{161.80\% (6796.48)}{sblue}
\fib{2556}{6852.01}{61.80\% (6852.01)}{fibo}
\fib{2556}{6826.99}{38.20\% (6826.99)}{fibo}
\fib{2556}{6811.52}{23.60\% (6811.52)}{fibo}
\fib{2556}{6786.5}{0.00\% (6786.50)}{fibo}
\fib{2373}{6892.75}{61.80\% (6892.75)}{black}
\fib{2373}{6892.75}{100.00\% (6892.50)}{black}
\fib{2373}{6892.75}{50.00\% (6892.25)}{black}
\fib{2373}{6892.75}{38.20\% (6892.60)}{black}
\fib{2373}{6892.75}{23.60\% (6892.50)}{black}

% wave labels
\node[font=\fs{12}\bfseries,text=pinkw] at (axis cs:727,6845.1) {(i)};
\node[font=\fs{12}\bfseries,text=pinkw] at (axis cs:1389,6896.3) {(ii)};
\node[font=\fs{12}\bfseries,text=pinkw] at (axis cs:2078,6782.1) {(iii)};
\node[font=\fs{12}\bfseries,text=pinkw] at (axis cs:2773,6851.8) {(iv)};
\node[font=\fs{12}\bfseries,text=pinkw] at (axis cs:3081,6794.4) {(v)};

% session flags
\flag{260}{6906.3}{London Session Lunch}
\flag{36}{6879.8}{New York Close}
\flag{1773}{6889}{New York Close}
\flag{2133}{6821}{London Session Lunch}

% right scale tags
\node[anchor=west,inner sep=0pt,font=\fs{12}\bfseries,text=txt] at (axis cs:3290,6820) {6820.00};
\tag{6821.75}{6821.75}{goldd!85!black}
\tag{6817}{6817.00}{bg!90!gray}
\tag{6772.5}{41.23}{gray!85}
\node[anchor=west,inner sep=0pt,font=\fs{10},text=txt] at (axis cs:3206,6817.8) {1869};
\node[anchor=west,inner sep=0pt,font=\fs{12}\bfseries,text=txt] at (axis cs:3180,6778.8) {ATR: 11};
\node[anchor=east,inner sep=0pt,font=\fs{7.4}\bfseries,text=red!75!black] at (axis cs:3398,6768.2) {NINJATRADER};

% top and bottom texts
\node[anchor=west,inner sep=0pt,font=\serifface\fs{13.2},text=txt] at (axis cs:9,6916.6) {Pacific Time Z Contract,};
\node[anchor=west,inner sep=0pt,font=\serifface\fs{13.2},text=txt] at (axis cs:9,6914.3) {ES};
\node[anchor=west,inner sep=0pt,font=\serifface\fs{13.2},text=txt] at (axis cs:9,6912.1) {2000 Tick};
\node[anchor=west,inner sep=0pt,font=\serifface\fs{9.7},text=txt!80] at (axis cs:8,6778.8) {ama-MovAvg Cross 21n 0 lag TEMA \& HATEMA, ama LinReg Band 13n, \& 21n, ama-Super Trend U Stop 13n LinReg offset 21n ATR @ 1.0};
\node[anchor=west,inner sep=0pt,font=\fs{12}\bfseries,text=txt] at (axis cs:4,6775.4) {skTimePerTickBarModNT8(ES 12-25 (2000 Tick))};
\node[anchor=west,inner sep=0pt,font=\fs{12}\bfseries,text=txt] at (axis cs:4,6773.6) {© 2025 NinjaTrader, LLC};
\node[anchor=west,inner sep=0pt,font=\fs{4.5},text=txt] at (axis cs:4,6768.1) {ES 12-25 ES 12-25 2000 Tick};
\node[anchor=west,inner sep=0pt,font=\fs{5},text=org!80] at (axis cs:8,6781.9) {04-Nov-2025 Reminders:};
\node[anchor=west,inner sep=0pt,font=\fs{5},text=org!80] at (axis cs:14,6780.9) {04:30 London Session Lunch};
\node[anchor=west,inner sep=0pt,font=\fs{5},text=org!80] at (axis cs:14,6779.9) {13:00 New York Close};
\node[font=\fs{8}\bfseries,text=sblue] at (axis cs:134,6780.6) {Sunday};
\node[font=\fs{8}\bfseries,text=sblue] at (axis cs:228,6780.6) {Monday};
\node[font=\fs{8}\bfseries,text=sblue] at (axis cs:2024,6780.6) {Tuesday};
\end{axis}
\pgfresetboundingbox
\path (ax.south west) rectangle (ax.north east);
\end{tikzpicture}
\end{document}
